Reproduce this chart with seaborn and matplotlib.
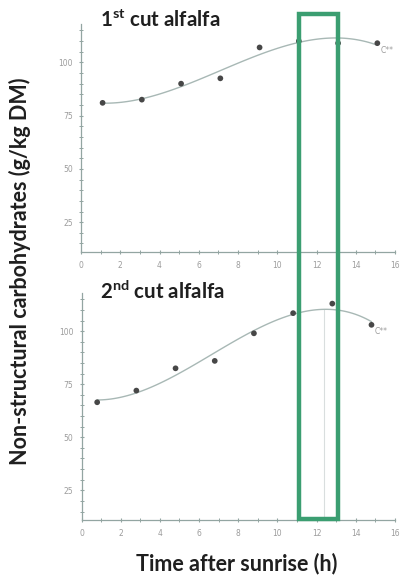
import numpy as np
import pandas as pd
import matplotlib
matplotlib.use("Agg")
import matplotlib.pyplot as plt
import seaborn as sns
from matplotlib.patches import Rectangle
from matplotlib.ticker import MultipleLocator

# Non-structural carbohydrate content over the day, two cuts of alfalfa
hours_first = [1.1, 3.1, 5.1, 7.1, 9.1, 11.1, 13.1, 15.1]
nsc_first = [81.0, 82.5, 90.0, 92.5, 107.0, 110.0, 109.0, 109.0]
hours_second = [0.8, 2.8, 4.8, 6.8, 8.8, 10.8, 12.8, 14.8]
nsc_second = [66.5, 72.0, 82.5, 86.0, 99.0, 108.5, 113.0, 103.0]

panel_titles = [r"1$^{\mathbf{st}}$ cut alfalfa", r"2$^{\mathbf{nd}}$ cut alfalfa"]
x_ticks = [0, 2, 4, 6, 8, 10, 12, 14, 16]
y_ticks = [25, 50, 75, 100]
fit_label = "C**"
harvest_window = (11.1, 13.1)   # hours after sunrise
peak_hour_second = 12.4

sns.set_style("white")
plt.rcParams["font.family"] = ["Lato", "DejaVu Sans"]
plt.rcParams["mathtext.fontset"] = "custom"
plt.rcParams["mathtext.bf"] = "Lato:bold"
plt.rcParams["mathtext.rm"] = "Lato"

spine_col = "#93a5a2"
tick_col = "#9c9c9c"
curve_col = "#a8b8b5"
dot_col = "#474747"
green = "#3b9e71"

fig = plt.figure(figsize=(4.0, 5.76), dpi=100)
W, H = 400, 576
ax_top = fig.add_axes([81 / W, 1 - 252 / H, 314 / W, 228 / H])
ax_bot = fig.add_axes([81.5 / W, 1 - 520 / H, 313.5 / W, 227 / H])

panels = [
    (ax_top, hours_first, nsc_first, 27),
    (ax_bot, hours_second, nsc_second, 299),
]

for i, (ax, hx, hy, title_y) in enumerate(panels):
    df = pd.DataFrame({"hour": hx, "nsc": hy})
    sns.regplot(data=df, x="hour", y="nsc", order=3, ci=None, scatter=False,
                ax=ax, line_kws=dict(color=curve_col, lw=1.0))
    sns.scatterplot(data=df, x="hour", y="nsc", ax=ax, color=dot_col, s=17,
                    edgecolor="none", zorder=3)
    ax.annotate(fit_label, (hx[-1], hy[-1]), xytext=(2.5, -5),
                textcoords="offset points", fontsize=5.5, color="#9a9a9a",
                family="DejaVu Sans", va="center", ha="left")
    ax.set_xlim(0, 16)
    ax.set_ylim(11, 118)
    ax.set_xticks(x_ticks)
    ax.set_yticks(y_ticks)
    ax.xaxis.set_minor_locator(MultipleLocator(1))
    ax.yaxis.set_minor_locator(MultipleLocator(5))
    ax.tick_params(which="both", bottom=True, left=True)
    ax.tick_params(which="major", direction="inout", length=3.5, width=0.8,
                   color=spine_col, labelsize=5.5, labelcolor=tick_col, pad=4)
    ax.tick_params(which="minor", direction="inout", length=2.5, width=0.7,
                   color=spine_col)
    ax.tick_params(axis="x", which="major", pad=5)
    for lab in ax.get_xticklabels() + ax.get_yticklabels():
        lab.set_family("DejaVu Sans")
    for side in ["top", "right"]:
        ax.spines[side].set_visible(False)
    for side in ["left", "bottom"]:
        ax.spines[side].set_color(spine_col)
        ax.spines[side].set_linewidth(0.9)
    ax.set_xlabel("")
    ax.set_ylabel("")
    ax.patch.set_alpha(0)
    fig.text(100 / W, 1 - title_y / H, panel_titles[i], fontsize=14.8,
             fontweight="bold", color="#1f1f1f", va="baseline", ha="left")

# faint marker at the fitted maximum of the second cut
ax_bot.vlines(peak_hour_second, 11, 110.5, color="#d9dede", lw=0.8, zorder=1)

# highlighted afternoon window spanning both panels
fig.canvas.draw()
to_fig = fig.transFigure.inverted()
x0 = to_fig.transform(ax_bot.transData.transform((harvest_window[0], 11)))
x1 = to_fig.transform(ax_bot.transData.transform((harvest_window[1], 11)))
top_frac = 1 - 13.7 / H
fig.patches.append(Rectangle((x0[0], x0[1] + 1.3 / H), x1[0] - x0[0],
                             top_frac - x0[1] - 1.3 / H,
                             transform=fig.transFigure, fill=False,
                             edgecolor=green, lw=3.2, zorder=10))

fig.text(20 / W, 1 - 271 / H, "Non-structural carbohydrates (g/kg DM)",
         rotation=90, fontsize=15.5, fontweight="bold", color="#1f1f1f",
         ha="center", va="center")
fig.text(237 / W, 1 - 564 / H, "Time after sunrise (h)", fontsize=15.5,
         fontweight="bold", color="#1f1f1f", ha="center", va="center")

fig.savefig("out.png", dpi=100)
